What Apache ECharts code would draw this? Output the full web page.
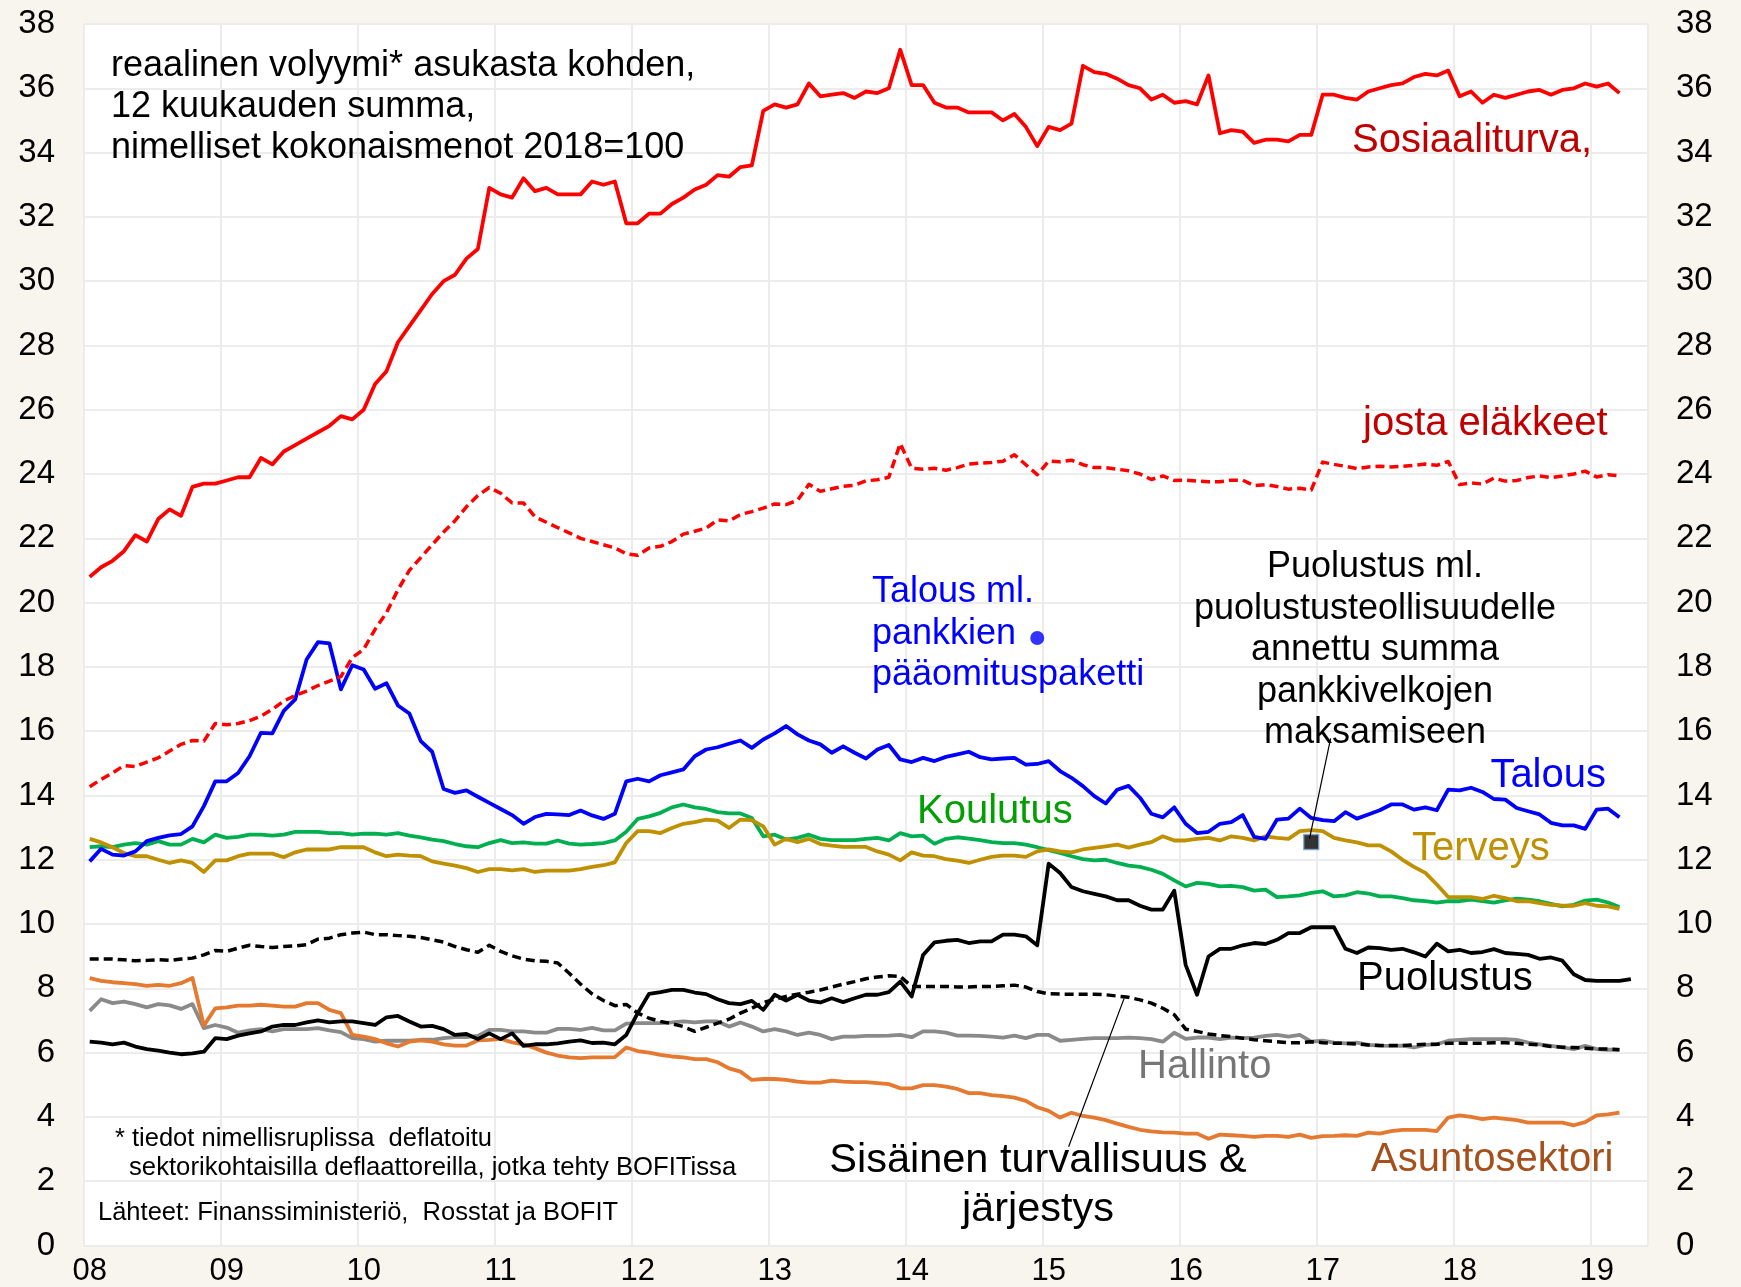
<!DOCTYPE html>
<html>
<head>
<meta charset="utf-8">
<title>Julkiset menot asukasta kohden</title>
<script src="https://cdn.jsdelivr.net/npm/echarts@6/dist/echarts.min.js"></script>
<style>
    html, body { margin: 0; padding: 0; background: #f8f4ee; }
    #chart { width: 1741px; height: 1287px; }
</style>
</head>
<body>
<div id="chart"></div>
<script>
// kuukaudet 2008-01 ... 2019-05 (x-akselin kategoriat)
var kuukaudet = [];
for (var vv = 2008; vv <= 2019; vv++) {
    for (var kk = 1; kk <= 12; kk++) kuukaudet.push(vv + '-' + (kk < 10 ? '0' : '') + kk);
}
kuukaudet = kuukaudet.slice(0, 137);
var vuosiLabels = ['08', '09', '10', '11', '12', '13', '14', '15', '16', '17', '18', '19'];

var sosiaaliturva = [20.8,21.1,21.3,21.6,22.1,21.9,22.6,22.9,22.7,23.6,23.7,23.7,
    23.8,23.9,23.9,24.5,24.3,24.7,24.9,25.1,25.3,25.5,25.8,25.7,
    26.0,26.8,27.2,28.1,28.6,29.1,29.6,30.0,30.2,30.7,31.0,32.9,
    32.7,32.6,33.2,32.8,32.9,32.7,32.7,32.7,33.1,33.0,33.1,31.8,
    31.8,32.1,32.1,32.4,32.6,32.85,33.0,33.3,33.25,33.55,33.6,35.3,
    35.5,35.4,35.5,36.15,35.75,35.8,35.85,35.7,35.9,35.85,36.0,37.2,
    36.1,36.1,35.55,35.4,35.4,35.25,35.25,35.25,35.0,35.2,34.8,34.2,
    34.8,34.7,34.9,36.7,36.5,36.45,36.3,36.1,36.0,35.65,35.8,35.55,
    35.6,35.5,36.4,34.6,34.7,34.65,34.3,34.4,34.4,34.35,34.55,34.55,
    35.8,35.8,35.7,35.65,35.9,36.0,36.1,36.15,36.35,36.45,36.4,36.55,
    35.75,35.9,35.55,35.8,35.7,35.8,35.9,35.95,35.8,35.95,36.0,36.15,
    36.05,36.15,35.85];

var elakkeet = [14.27,14.5,14.7,14.93,14.9,15.04,15.17,15.38,15.59,15.71,15.69,16.24,
    16.2,16.24,16.33,16.47,16.68,16.94,17.11,17.25,17.42,17.56,17.7,18.29,
    18.55,19.17,19.69,20.4,21.0,21.4,21.8,22.2,22.55,22.98,23.33,23.58,
    23.4,23.1,23.1,22.67,22.5,22.33,22.17,22.0,21.9,21.8,21.7,21.52,
    21.47,21.7,21.75,21.9,22.13,22.22,22.32,22.57,22.54,22.74,22.83,22.94,
    23.07,23.05,23.18,23.68,23.46,23.54,23.62,23.65,23.79,23.82,23.9,24.95,
    24.18,24.15,24.18,24.12,24.2,24.31,24.34,24.36,24.4,24.6,24.29,23.98,
    24.4,24.38,24.43,24.29,24.2,24.2,24.15,24.1,24.0,23.83,23.94,23.8,
    23.81,23.78,23.76,23.76,23.81,23.81,23.64,23.67,23.61,23.53,23.56,23.5,
    24.37,24.3,24.24,24.17,24.22,24.24,24.22,24.24,24.27,24.31,24.27,24.39,
    23.67,23.72,23.69,23.87,23.78,23.8,23.89,23.94,23.89,23.94,24.0,24.09,
    23.91,23.98,23.94];

var talous = [11.95,12.34,12.16,12.13,12.26,12.58,12.68,12.76,12.8,13.04,13.67,14.44,
    14.44,14.7,15.22,15.95,15.93,16.63,16.99,18.23,18.77,18.73,17.3,18.05,
    17.92,17.32,17.49,16.8,16.55,15.69,15.36,14.2,14.08,14.16,13.96,13.77,
    13.58,13.39,13.12,13.33,13.43,13.41,13.39,13.53,13.38,13.27,13.43,14.44,
    14.52,14.44,14.63,14.72,14.81,15.22,15.43,15.5,15.61,15.71,15.48,15.74,
    15.93,16.16,15.9,15.71,15.59,15.33,15.53,15.33,15.15,15.43,15.57,15.12,
    15.04,15.17,15.07,15.2,15.28,15.36,15.19,15.12,15.15,15.17,14.96,14.98,
    15.07,14.76,14.55,14.29,13.98,13.75,14.18,14.3,13.93,13.43,13.32,13.63,
    13.12,12.83,12.87,13.12,13.17,13.39,12.71,12.65,13.25,13.28,13.59,13.3,
    13.23,13.2,13.48,13.28,13.41,13.54,13.72,13.72,13.56,13.63,13.54,14.18,
    14.16,14.24,14.11,13.89,13.87,13.61,13.51,13.41,13.15,13.07,13.07,12.96,
    13.56,13.59,13.32];

var koulutus = [12.39,12.42,12.39,12.47,12.52,12.47,12.58,12.47,12.47,12.65,12.54,12.78,
    12.68,12.71,12.78,12.78,12.75,12.78,12.87,12.87,12.87,12.83,12.83,12.78,
    12.81,12.81,12.78,12.83,12.75,12.7,12.63,12.58,12.49,12.42,12.39,12.52,
    12.61,12.52,12.54,12.5,12.5,12.6,12.5,12.47,12.49,12.52,12.6,12.87,
    13.27,13.35,13.46,13.63,13.72,13.63,13.58,13.48,13.44,13.44,13.3,12.73,
    12.78,12.63,12.68,12.78,12.65,12.61,12.61,12.61,12.65,12.68,12.6,12.83,
    12.73,12.75,12.5,12.65,12.7,12.66,12.61,12.55,12.52,12.52,12.47,12.39,
    12.3,12.21,12.11,12.02,11.98,12.0,11.9,11.82,11.78,11.69,11.56,11.36,
    11.17,11.28,11.25,11.17,11.19,11.15,11.04,11.07,10.84,10.86,10.89,10.97,
    11.02,10.86,10.89,10.99,10.95,10.86,10.86,10.81,10.74,10.71,10.67,10.71,
    10.71,10.76,10.71,10.67,10.74,10.79,10.76,10.71,10.63,10.55,10.6,10.73,
    10.76,10.67,10.53];

var terveys = [12.65,12.54,12.39,12.21,12.11,12.11,12.0,11.9,11.98,11.9,11.62,11.98,
    11.98,12.11,12.19,12.19,12.19,12.08,12.23,12.32,12.32,12.32,12.39,12.39,
    12.39,12.23,12.11,12.16,12.13,12.11,11.95,11.88,11.82,11.74,11.62,11.71,
    11.71,11.67,11.71,11.62,11.66,11.66,11.66,11.71,11.78,11.83,11.92,12.52,
    12.89,12.89,12.83,12.99,13.12,13.17,13.25,13.22,12.99,13.25,13.23,13.04,
    12.47,12.65,12.55,12.65,12.49,12.44,12.4,12.4,12.4,12.26,12.16,11.98,
    12.23,12.13,12.11,12.02,11.97,11.9,12.0,12.09,12.13,12.13,12.09,12.26,
    12.32,12.26,12.23,12.32,12.37,12.42,12.47,12.38,12.47,12.55,12.73,12.6,
    12.6,12.65,12.68,12.6,12.73,12.68,12.6,12.73,12.68,12.65,12.89,12.92,
    12.89,12.68,12.6,12.54,12.45,12.45,12.26,12.0,11.78,11.59,11.23,10.84,
    10.84,10.84,10.78,10.88,10.81,10.71,10.71,10.65,10.6,10.57,10.57,10.65,
    10.57,10.55,10.47];

var puolustus = [6.34,6.31,6.26,6.31,6.19,6.11,6.06,6.0,5.95,5.98,6.03,6.45,
    6.42,6.53,6.6,6.66,6.81,6.86,6.86,6.94,7.0,6.94,6.97,6.97,
    6.92,6.86,7.1,7.14,6.97,6.81,6.83,6.73,6.55,6.58,6.42,6.6,
    6.42,6.6,6.21,6.26,6.26,6.29,6.34,6.38,6.3,6.31,6.26,6.55,
    7.23,7.83,7.88,7.95,7.95,7.87,7.82,7.66,7.54,7.51,7.61,7.33,
    7.8,7.62,7.8,7.62,7.56,7.69,7.57,7.69,7.8,7.8,7.88,8.21,
    7.75,9.04,9.43,9.48,9.51,9.41,9.46,9.46,9.67,9.67,9.62,9.34,
    11.88,11.59,11.15,11.02,10.94,10.86,10.74,10.74,10.57,10.45,10.45,11.04,
    8.73,7.8,8.99,9.23,9.23,9.34,9.41,9.38,9.51,9.72,9.72,9.9,
    9.9,9.9,9.23,9.1,9.27,9.25,9.2,9.23,9.12,8.99,9.39,9.15,
    9.2,9.1,9.13,9.22,9.1,9.07,9.04,8.92,8.96,8.86,8.44,8.26,
    8.23,8.23,8.23,8.29];

var sisainenTurvallisuus = [8.91,8.91,8.91,8.89,8.86,8.87,8.89,8.87,8.91,8.94,9.04,9.18,
    9.15,9.25,9.34,9.3,9.27,9.3,9.32,9.36,9.53,9.56,9.67,9.72,
    9.75,9.67,9.67,9.64,9.62,9.58,9.51,9.44,9.3,9.2,9.12,9.34,
    9.15,9.01,8.91,8.86,8.84,8.79,8.47,8.13,7.83,7.62,7.46,7.5,
    7.23,7.07,6.97,6.9,6.81,6.66,6.79,6.92,7.04,7.23,7.38,7.56,
    7.66,7.75,7.82,7.88,7.95,8.04,8.13,8.21,8.3,8.35,8.39,8.37,
    8.06,8.06,8.06,8.06,8.04,8.04,8.06,8.06,8.08,8.1,8.04,7.9,
    7.83,7.82,7.82,7.82,7.82,7.8,7.76,7.72,7.64,7.54,7.38,7.18,
    6.73,6.66,6.58,6.53,6.5,6.45,6.4,6.37,6.34,6.31,6.31,6.34,
    6.31,6.29,6.29,6.27,6.24,6.22,6.22,6.22,6.24,6.26,6.26,6.29,
    6.29,6.29,6.29,6.31,6.31,6.29,6.26,6.24,6.19,6.17,6.16,6.14,
    6.11,6.11,6.09];

var hallinto = [7.3,7.66,7.54,7.59,7.51,7.41,7.51,7.47,7.36,7.51,6.76,6.86,
    6.78,6.62,6.69,6.73,6.66,6.73,6.73,6.73,6.76,6.69,6.64,6.45,
    6.42,6.34,6.37,6.37,6.37,6.4,6.4,6.45,6.48,6.48,6.52,6.71,
    6.71,6.66,6.66,6.62,6.62,6.74,6.74,6.71,6.77,6.69,6.69,6.9,
    6.92,6.92,6.92,6.94,6.97,6.94,6.97,6.97,6.81,6.94,6.81,6.66,
    6.73,6.66,6.55,6.62,6.55,6.42,6.5,6.5,6.52,6.52,6.53,6.55,
    6.48,6.66,6.66,6.62,6.53,6.53,6.52,6.5,6.47,6.53,6.45,6.55,
    6.55,6.37,6.4,6.43,6.45,6.45,6.45,6.47,6.45,6.42,6.34,6.62,
    6.43,6.47,6.47,6.42,6.47,6.45,6.47,6.52,6.55,6.5,6.55,6.34,
    6.37,6.31,6.29,6.31,6.24,6.22,6.21,6.22,6.16,6.24,6.26,6.37,
    6.4,6.42,6.42,6.42,6.42,6.4,6.31,6.26,6.21,6.16,6.11,6.21,
    6.11,6.09,6.09];

var asuntosektori = [8.32,8.23,8.19,8.16,8.13,8.08,8.11,8.08,8.16,8.32,6.84,7.38,
    7.41,7.46,7.46,7.49,7.46,7.43,7.43,7.54,7.54,7.33,7.23,6.55,
    6.5,6.42,6.29,6.19,6.34,6.38,6.34,6.26,6.22,6.22,6.38,6.4,
    6.43,6.32,6.26,6.14,6.0,5.91,5.85,5.83,5.85,5.85,5.86,6.16,
    6.05,6.0,5.93,5.88,5.85,5.8,5.8,5.7,5.51,5.41,5.15,5.18,
    5.18,5.15,5.1,5.07,5.07,5.13,5.1,5.08,5.08,5.05,5.02,4.89,
    4.89,4.99,4.99,4.94,4.87,4.74,4.74,4.68,4.65,4.6,4.5,4.3,
    4.19,3.98,4.13,4.03,3.98,3.9,3.79,3.69,3.6,3.55,3.52,3.51,
    3.48,3.48,3.32,3.45,3.43,3.41,3.38,3.41,3.41,3.38,3.45,3.35,
    3.4,3.41,3.43,3.41,3.51,3.48,3.56,3.6,3.6,3.6,3.56,3.98,
    4.05,4.0,3.93,3.98,3.94,3.9,3.82,3.82,3.82,3.82,3.74,3.84,
    4.05,4.08,4.13];

// erilliset pisteet
var pankkiPakettiKk = ['2014-12'];
var pankkiPakettiArvo = [18.9];
var puolustusVelatKk = ['2016-12'];
var puolustusVelatArvo = [12.55];

var FONT = '"Liberation Sans", Arial, sans-serif';

var chart = echarts.init(document.getElementById('chart'));

function viiva(nimi, data, vari, tyyppi, z) {
    var katko = tyyppi && tyyppi !== 'solid';
    return {
        name: nimi, type: 'line', data: data, symbol: 'none', showSymbol: false,
        silent: true, z: z,
        lineStyle: { color: vari, width: katko ? 3.5 : 3.8, type: tyyppi || 'solid', join: 'round' }
    };
}

function piste(nimi, kk, arvot, symboli, koko, vari, reuna) {
    return {
        name: nimi, type: 'scatter', silent: true, z: 20,
        data: kk.map(function (k, i) { return [k, arvot[i]]; }),
        symbol: symboli, symbolSize: koko,
        itemStyle: { color: vari, borderColor: reuna || vari, borderWidth: reuna ? 1.5 : 0 }
    };
}

var akseliLabel = { color: '#000', fontSize: 33, fontFamily: FONT };

var option = {
    backgroundColor: '#f8f4ee',
    animation: false,
    grid: {
        left: 84, right: 93, top: 24, bottom: 41.5,
        show: true, backgroundColor: '#ffffff', borderWidth: 0
    },
    xAxis: {
        type: 'category',
        data: kuukaudet,
        boundaryGap: true,
        axisLine: { show: false },
        axisTick: { show: false },
        axisLabel: {
            color: '#000', fontSize: 31, fontFamily: FONT, margin: 10,
            interval: function (index) { return index % 12 === 0; },
            formatter: function (value) {
                return vuosiLabels[Math.floor(kuukaudet.indexOf(value) / 12)];
            }
        },
        splitLine: {
            show: true,
            interval: function (index) { return index % 12 === 0; },
            lineStyle: { color: '#ececec', width: 2 }
        }
    },
    yAxis: [
        {
            type: 'value', min: 0, max: 38, interval: 2, position: 'left',
            axisLine: { show: false }, axisTick: { show: false },
            axisLabel: Object.assign({ margin: 29 }, akseliLabel),
            splitLine: { show: true, lineStyle: { color: '#ececec', width: 2 } }
        },
        {
            type: 'value', min: 0, max: 38, interval: 2, position: 'right',
            axisLine: { show: false }, axisTick: { show: false },
            axisLabel: Object.assign({ margin: 28 }, akseliLabel),
            splitLine: { show: false }
        }
    ],
    series: [
        viiva('Hallinto', hallinto, '#8a8a8a', 'solid', 2),
        viiva('Asuntosektori', asuntosektori, '#e4792f', 'solid', 3),
        viiva('Koulutus', koulutus, '#00b050', 'solid', 4),
        viiva('Terveys', terveys, '#bf9000', 'solid', 5),
        viiva('Talous', talous, '#0000ff', 'solid', 6),
        viiva('Sisäinen turvallisuus & järjestys', sisainenTurvallisuus, '#000000', [9, 5], 7),
        viiva('Puolustus', puolustus, '#000000', 'solid', 8),
        viiva('josta eläkkeet', elakkeet, '#ff0000', [9, 5], 9),
        viiva('Sosiaaliturva', sosiaaliturva, '#ff0000', 'solid', 10),
        piste('Talous ml. pankkien pääomituspaketti', pankkiPakettiKk, pankkiPakettiArvo, 'circle', 14, '#0000ff'),
        piste('Puolustus ml. pankkivelat', puolustusVelatKk, puolustusVelatArvo, 'rect', 15, '#000000', '#7aa6d6')
    ]
};

chart.setOption(option);

// tekstit (sijainnit pikseleinä)
function teksti(rivit, x, y0, rivikorkeus, koko, vari, tasaus) {
    return rivit.map(function (r, i) {
        return {
            type: 'text', silent: true, z: 30,
            style: {
                text: r, x: x, y: y0 + i * rivikorkeus,
                font: koko + 'px ' + FONT, fill: vari,
                align: tasaus || 'left', verticalAlign: 'middle',
                textAlign: tasaus || 'left', textVerticalAlign: 'middle'
            }
        };
    });
}

// apuviivat datakoordinaateista (murtoluku-indeksi kuukausille)
function pikseli(i, arvo) {
    var i0 = Math.floor(i);
    var a = chart.convertToPixel({ xAxisIndex: 0, yAxisIndex: 0 }, [i0, arvo]);
    var b = chart.convertToPixel({ xAxisIndex: 0, yAxisIndex: 0 }, [i0 + 1, arvo]);
    return [a[0] + (b[0] - a[0]) * (i - i0), a[1]];
}
function apuviiva(i1, v1, i2, v2) {
    var p1 = pikseli(i1, v1), p2 = pikseli(i2, v2);
    return {
        type: 'line', silent: true, z: 25,
        shape: { x1: p1[0], y1: p1[1], x2: p2[0], y2: p2[1] },
        style: { stroke: '#000', lineWidth: 1.2 }
    };
}

var grafiikka = [].concat(
    teksti(['reaalinen volyymi* asukasta kohden,', '12 kuukauden summa,', 'nimelliset kokonaismenot 2018=100'],
        111, 66.5, 41, 36, '#000'),
    teksti(['* tiedot nimellisruplissa  deflatoitu'], 115, 1139, 29, 25.5, '#000'),
    teksti(['sektorikohtaisilla deflaattoreilla, jotka tehty BOFITissa'], 129, 1168, 29, 25.7, '#000'),
    teksti(['Lähteet: Finanssiministeriö,  Rosstat ja BOFIT'], 98, 1213, 29, 25.5, '#000'),
    teksti(['Talous ml.', 'pankkien', 'pääomituspaketti'], 872, 592.5, 41.5, 36, '#0000ff'),
    teksti(['Puolustus ml.', 'puolustusteollisuudelle', 'annettu summa', 'pankkivelkojen', 'maksamiseen'],
        1375, 567.5, 41.4, 36, '#000', 'center'),
    teksti(['Sosiaaliturva,'], 1352, 140.5, 0, 40, '#c00000'),
    teksti(['josta eläkkeet'], 1363, 423.5, 0, 40, '#c00000'),
    teksti(['Talous'], 1606, 776, 0, 40, '#0000ff', 'right'),
    teksti(['Koulutus'], 917, 812, 0, 40, '#00a000'),
    teksti(['Terveys'], 1412, 849, 0, 40, '#bf9000'),
    teksti(['Puolustus'], 1357, 979, 0, 40, '#000'),
    teksti(['Hallinto'], 1138, 1067, 0, 40, '#767676'),
    teksti(['Asuntosektori'], 1371, 1160, 0, 40, '#a5501c'),
    teksti(['Sisäinen turvallisuus &', 'järjestys'], 1038, 1161, 49, 41.5, '#000', 'center'),
    [apuviiva(106.85, 12.66, 108.7, 15.78), apuviiva(90.6, 7.68, 85.75, 3.07)]
);

chart.setOption({ graphic: grafiikka });
</script>
</body>
</html>
